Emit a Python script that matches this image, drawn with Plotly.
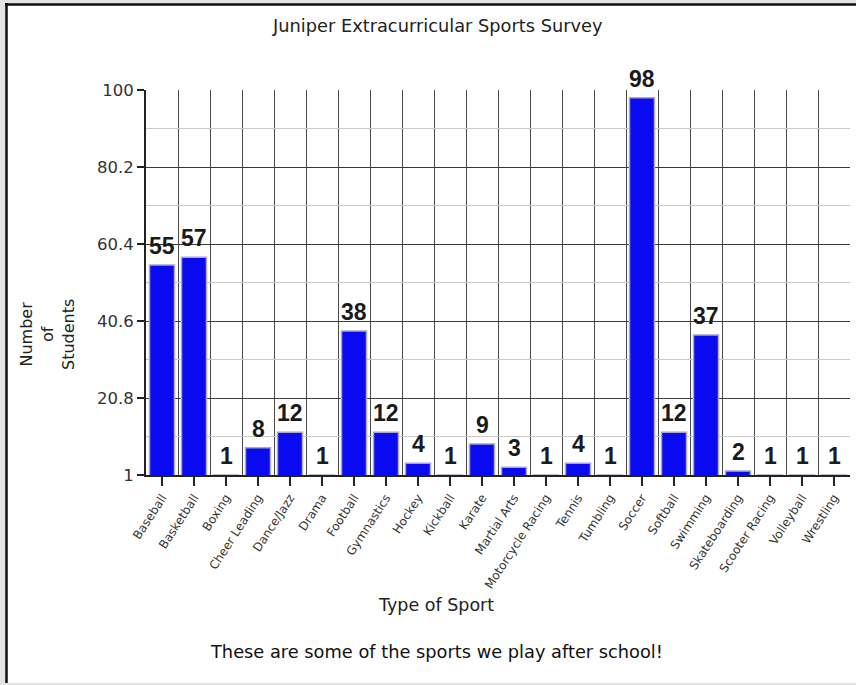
import plotly.graph_objects as go

categories = ["Baseball", "Basketball", "Boxing", "Cheer Leading", "Dance/Jazz", "Drama",
              "Football", "Gymnastics", "Hockey", "Kickball", "Karate", "Martial Arts",
              "Motorcycle Racing", "Tennis", "Tumbling", "Soccer", "Softball", "Swimming",
              "Skateboarding", "Scooter Racing", "Volleyball", "Wrestling"]
students = [55, 57, 1, 8, 12, 1, 38, 12, 4, 1, 9, 3, 1, 4, 1, 98, 12, 37, 2, 1, 1, 1]
y_ticks = [1, 20.8, 40.6, 60.4, 80.2, 100]

title_text = "Juniper Extracurricular Sports Survey"
x_title = "Type of Sport"
y_title = "Number<br>of<br>Students"
footer = "These are some of the sports we play after school!"

# plot area in pixels
W, H = 856, 685
L, R, T, B = 146, 850, 90, 475
pw, ph = R - L, B - T


def px(x):
    return (x - L) / pw


def py(y):
    return (B - y) / ph


xs = list(range(len(categories)))
boundaries = [i - 0.5 for i in range(len(categories) + 1)]
y_minor = [(a + b) / 2 for a, b in zip(y_ticks[:-1], y_ticks[1:])]

FONT = "DejaVu Sans"

fig = go.Figure()
fig.add_trace(go.Bar(
    x=xs, y=students, width=0.78,
    marker=dict(color="#0a0af0", line=dict(color="#a8a8c0", width=1.5)),
    hoverinfo="skip",
))

for x, v in zip(xs, students):
    fig.add_annotation(x=x, y=v, xref="x", yref="y", text=str(v), showarrow=False,
                       yanchor="bottom", yshift=4,
                       font=dict(family="Liberation Sans", size=23, color="#1a1a1a", weight="bold"))

fig.update_layout(
    width=W, height=H,
    margin=dict(l=L, r=W - R, t=T, b=H - B, pad=0),
    paper_bgcolor="#e4e4e6",
    plot_bgcolor="white",
    showlegend=False,
    font=dict(family=FONT, color="#2a2a2a"),
    xaxis=dict(
        range=[-0.5, len(categories) - 0.5],
        tickmode="array", tickvals=xs, ticktext=categories,
        tickangle=-57, tickfont=dict(family=FONT, size=12, color="#333"),
        ticks="outside", ticklen=9, tickcolor="#222", tickwidth=1.5,
        showgrid=False, zeroline=False,
        showline=True, linecolor="#222", linewidth=2,
        minor=dict(tickmode="array", tickvals=boundaries, showgrid=True,
                   gridcolor="#4a4a4a", gridwidth=1.3, ticklen=0),
    ),
    yaxis=dict(
        range=[1, 100],
        tickmode="array", tickvals=y_ticks, ticktext=[f"{t:g}" for t in y_ticks],
        tickfont=dict(family=FONT, size=16.5, color="#333"),
        ticks="outside", ticklen=7, tickcolor="#222", tickwidth=1.5,
        showgrid=True, gridcolor="#3a3a3a", gridwidth=1.3,
        zeroline=False,
        showline=True, linecolor="#222", linewidth=2,
        minor=dict(tickmode="array", tickvals=y_minor, showgrid=True,
                   gridcolor="#c8c8c8", gridwidth=1.2, ticklen=0),
    ),
)

# frame: white page with black left/top border
fig.add_shape(type="rect", xref="paper", yref="paper",
              x0=px(6), x1=px(W), y0=py(683), y1=py(4),
              fillcolor="white", line=dict(width=0), layer="below")
fig.add_shape(type="line", xref="paper", yref="paper",
              x0=px(6.5), x1=px(6.5), y0=py(683), y1=py(3),
              line=dict(color="#111", width=2.5))
fig.add_shape(type="line", xref="paper", yref="paper",
              x0=px(5), x1=px(W), y0=py(4.5), y1=py(4.5),
              line=dict(color="#111", width=2.5))

fig.add_annotation(x=px(437), y=py(26), xref="paper", yref="paper", text=title_text,
                   showarrow=False, xanchor="center", yanchor="middle",
                   font=dict(family=FONT, size=17.8, color="#222"))
fig.add_annotation(x=px(47), y=py(335), xref="paper", yref="paper", text=y_title,
                   showarrow=False, textangle=-90, xanchor="center", yanchor="middle",
                   font=dict(family=FONT, size=16, color="#222"))
fig.add_annotation(x=px(436), y=py(605), xref="paper", yref="paper", text=x_title,
                   showarrow=False, xanchor="center", yanchor="middle",
                   font=dict(family=FONT, size=17.5, color="#222"))
fig.add_annotation(x=px(436), y=py(651), xref="paper", yref="paper", text=footer,
                   showarrow=False, xanchor="center", yanchor="middle",
                   font=dict(family=FONT, size=17.8, color="#111"))

fig.write_html("out.html", config={"displayModeBar": False},
               post_script="document.body.style.margin='0px';document.body.style.overflow='hidden';")
